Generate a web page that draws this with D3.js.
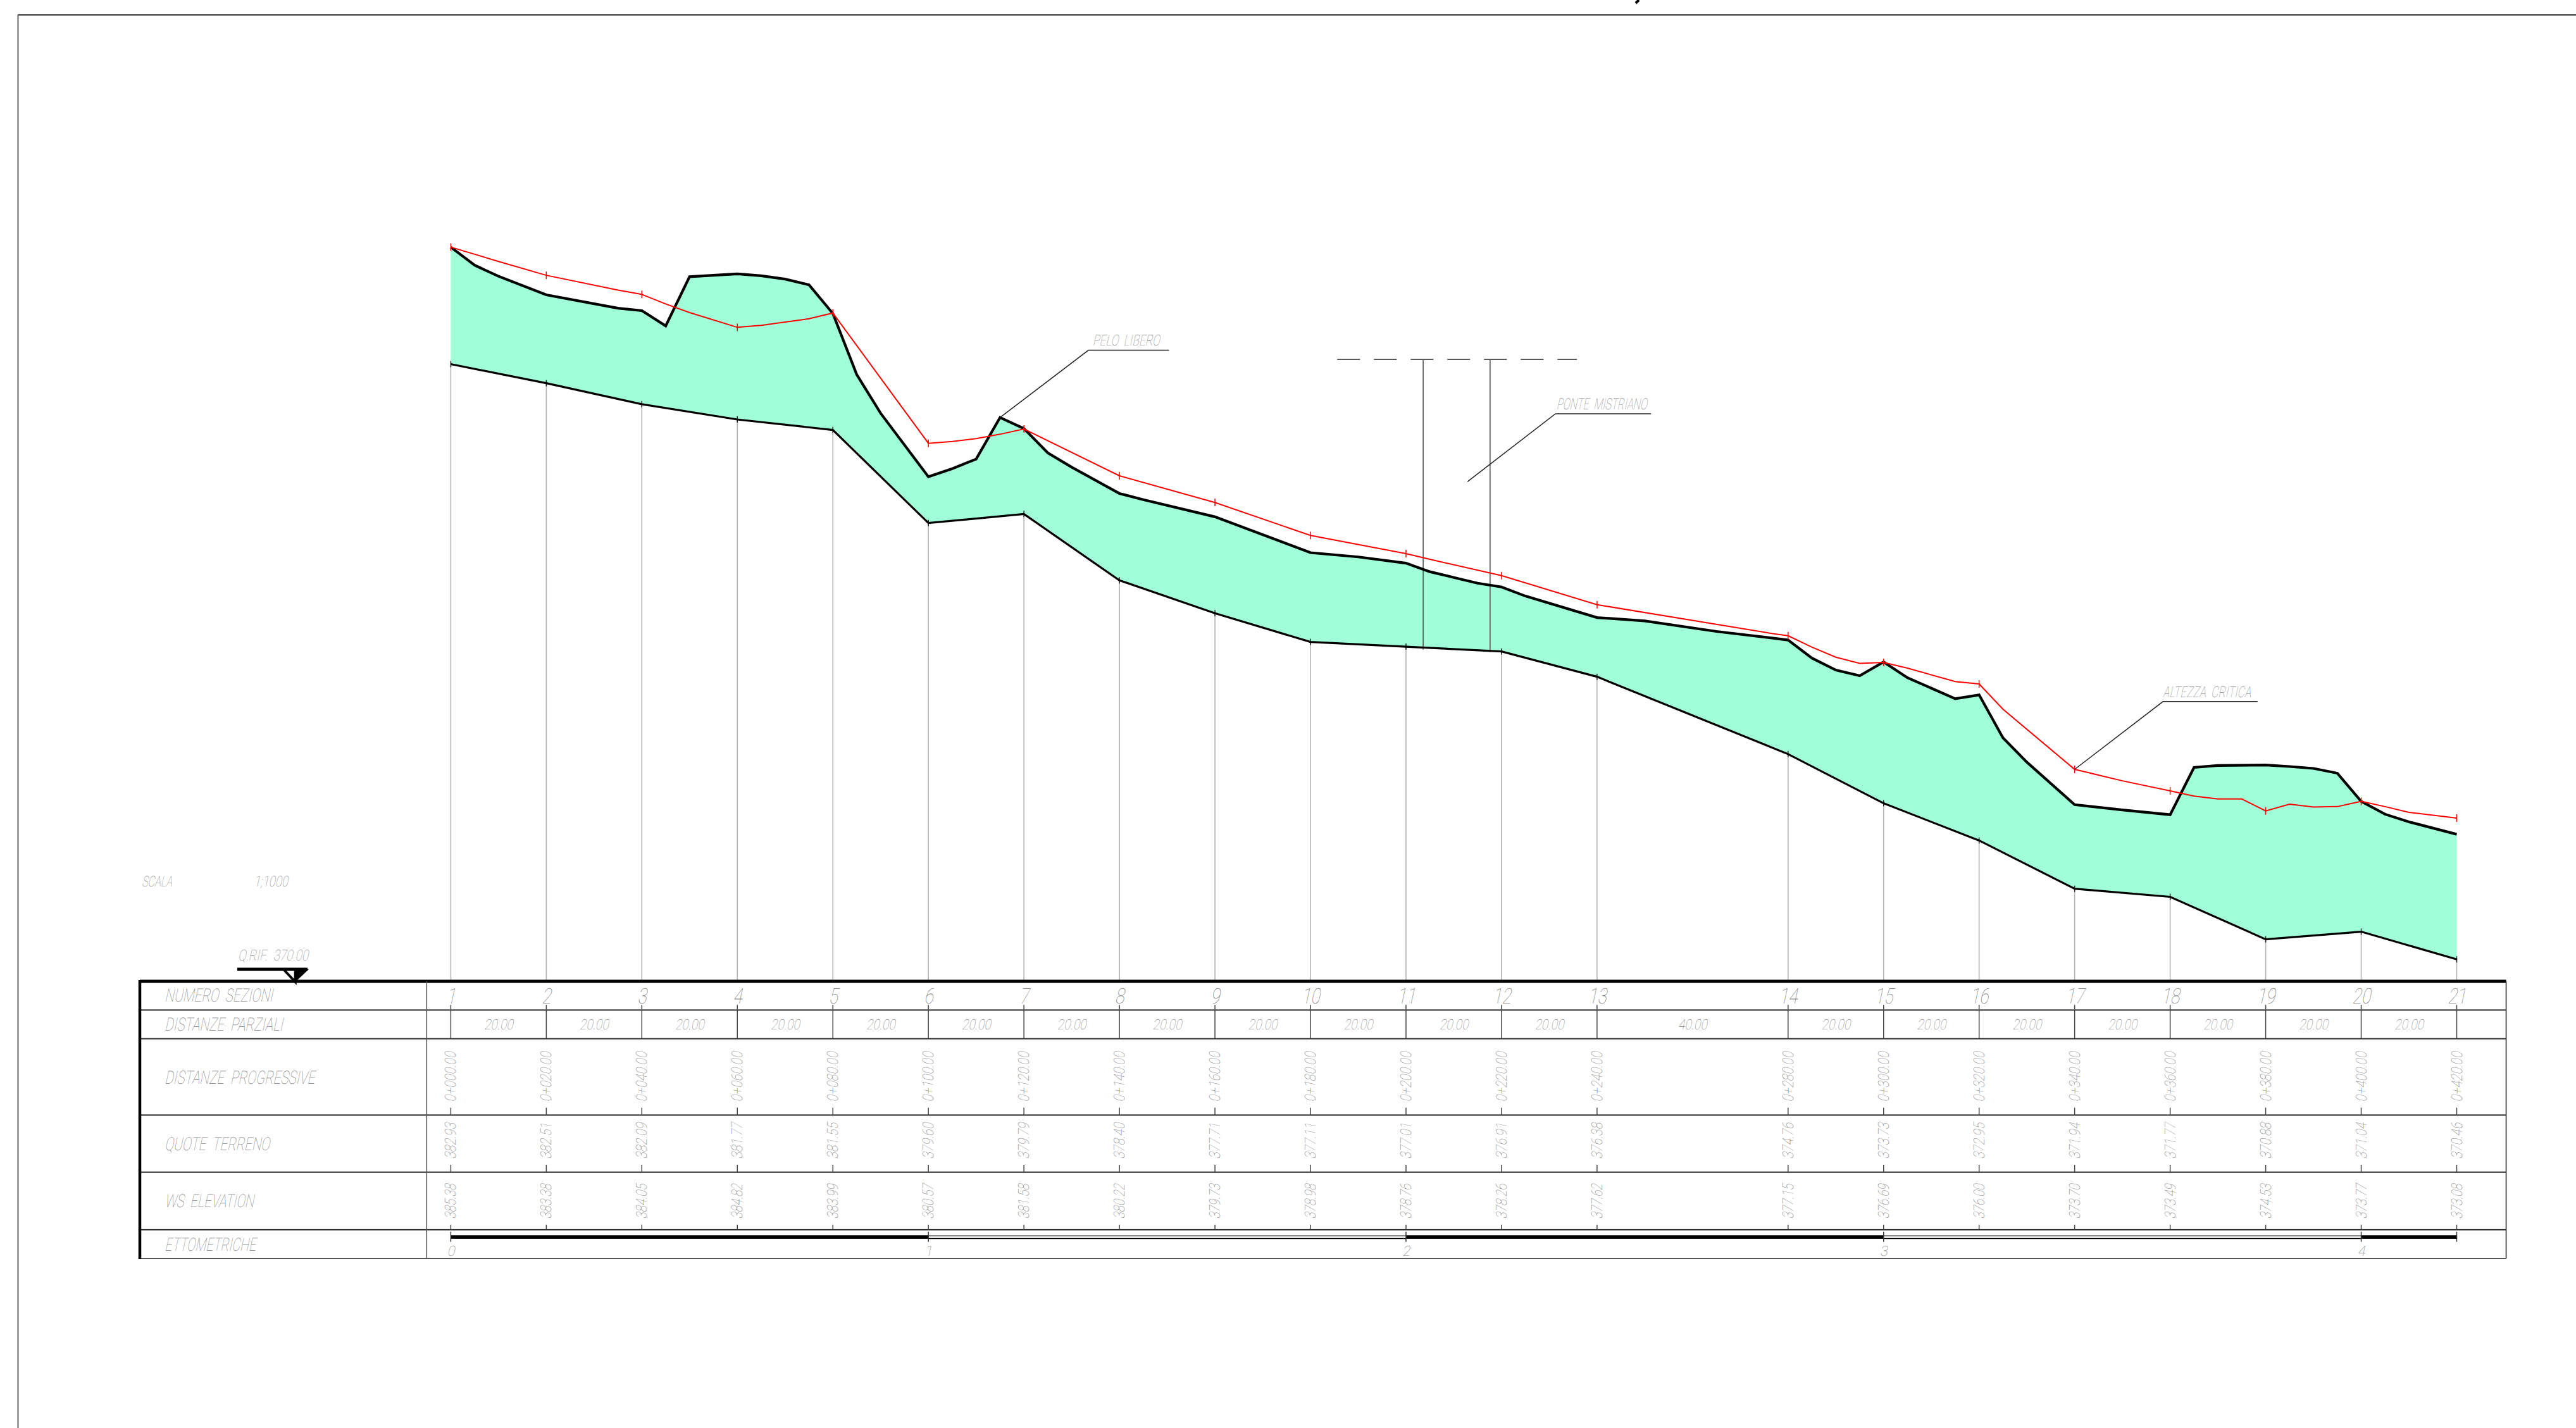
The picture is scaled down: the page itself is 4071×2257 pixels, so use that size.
<!DOCTYPE html>
<html lang="en">
<head>
  <meta charset="UTF-8">
  <title>Profilo longitudinale</title>
  <script src="https://d3js.org/d3.v7.min.js"></script>
  <style>
    body { margin: 0; background: #fff; }
    svg { display: block; }
    text { font-family: Roboto, "Liberation Sans", sans-serif; font-weight: 100; fill: #858585; white-space: pre; }
  </style>
</head>
<body>
  <svg width="4071" height="2257"></svg>
  <script>
    // sections
    const sectionNumbers = d3.range(1, 22).map(String);
    const sectionDist = [0, 20, 40, 60, 80, 100, 120, 140, 160, 180, 200, 220, 240, 280, 300, 320, 340, 360, 380, 400, 420];
    const partialLabels = ["20.00", "20.00", "20.00", "20.00", "20.00", "20.00", "20.00", "20.00", "20.00", "20.00", "20.00", "20.00", "40.00", "20.00", "20.00", "20.00", "20.00", "20.00", "20.00", "20.00"];
    const progressiveLabels = ["0+000.00", "0+020.00", "0+040.00", "0+060.00", "0+080.00", "0+100.00", "0+120.00", "0+140.00", "0+160.00", "0+180.00", "0+200.00", "0+220.00", "0+240.00", "0+280.00", "0+300.00", "0+320.00", "0+340.00", "0+360.00", "0+380.00", "0+400.00", "0+420.00"];
    const bedLabels = ["382.93", "382.51", "382.09", "381.77", "381.55", "379.60", "379.79", "378.40", "377.71", "377.11", "377.01", "376.91", "376.38", "374.76", "373.73", "372.95", "371.94", "371.77", "370.88", "371.04", "370.46"];
    const wsLabels = ["385.38", "383.38", "384.05", "384.82", "383.99", "380.57", "381.58", "380.22", "379.73", "378.98", "378.76", "378.26", "377.62", "377.15", "376.69", "376.00", "373.70", "373.49", "374.53", "373.77", "373.08"];
    const bedElev = [382.93, 382.53, 382.09, 381.77, 381.55, 379.60, 379.79, 378.40, 377.71, 377.11, 377.01, 376.91, 376.38, 374.76, 373.73, 372.95, 371.94, 371.77, 370.88, 371.04, 370.46];

    // pelo libero (black)
    const wsDist = [0, 5, 10, 20, 35, 40, 45, 50, 60, 65, 70, 75, 80, 85, 90, 100, 105, 110, 115, 120, 125, 130, 140, 145, 160, 180, 190, 200, 205, 210, 215, 220, 225, 240, 250, 265, 280, 285, 290, 295, 300, 305, 315, 320, 325, 330, 340, 350, 360, 365, 370, 380, 385, 390, 395, 400, 405, 410, 420];
    const wsElev = [385.38, 385.00, 384.77, 384.38, 384.10, 384.05, 383.73, 384.76, 384.82, 384.78, 384.71, 384.59, 383.99, 382.71, 381.90, 380.57, 380.74, 380.94, 381.81, 381.58, 381.07, 380.77, 380.22, 380.09, 379.73, 378.98, 378.89, 378.76, 378.58, 378.46, 378.34, 378.26, 378.07, 377.62, 377.55, 377.33, 377.15, 376.77, 376.52, 376.40, 376.69, 376.36, 375.92, 376.00, 375.10, 374.59, 373.70, 373.59, 373.49, 374.48, 374.52, 374.53, 374.50, 374.46, 374.36, 373.77, 373.50, 373.34, 373.08];

    // altezza critica (red)
    const critDist = [0, 10, 20, 35, 40, 45, 50, 60, 65, 70, 75, 80, 100, 105, 110, 115, 120, 140, 160, 180, 200, 205, 220, 240, 277, 280, 285, 290, 295, 300, 305, 315, 320, 325, 340, 350, 360, 365, 370, 375, 380, 385, 390, 395, 400, 405, 410, 420];
    const critElev = [385.38, 385.08, 384.79, 384.48, 384.39, 384.19, 384.01, 383.70, 383.74, 383.81, 383.88, 384.00, 381.27, 381.31, 381.37, 381.46, 381.57, 380.59, 380.03, 379.34, 378.96, 378.84, 378.50, 377.89, 377.28, 377.24, 377.00, 376.79, 376.66, 376.68, 376.56, 376.28, 376.23, 375.70, 374.44, 374.20, 373.99, 373.88, 373.82, 373.82, 373.57, 373.71, 373.65, 373.66, 373.77, 373.66, 373.54, 373.42];

    // ponte
    const bridgeDeckElev = 383.03;
    const bridgeDeckDist = [185.6, 235.8];
    const bridgePierDist = [203.6, 217.6];
    const bridgePierBase = [376.95, 376.90];

    // callouts: leader points are [dist, elevation]
    const calloutLabels = ["PELO  LIBERO", "PONTE  MISTRIANO", "ALTEZZA  CRITICA"];
    const calloutLeaders = [
      [[115, 381.81], [133.5, 383.22], [150.4, 383.22]],
      [[212.9, 380.47], [231.3, 381.89], [251.3, 381.89]],
      [[340, 374.44], [358.5, 375.86], [378.3, 375.86]]
    ];

    const hectoLabels = ["0", "1", "2", "3", "4"];
    const hectoDist = [0, 100, 200, 300, 400];
    const rowLabels = ["NUMERO  SEZIONI", "DISTANZE  PARZIALI", "DISTANZE  PROGRESSIVE", "QUOTE  TERRENO", "WS  ELEVATION", "ETTOMETRICHE"];

    const svg = d3.select("svg");
    const x = d3.scaleLinear().domain([0, 420]).range([712.4, 3882.5]);
    const y = d3.scaleLinear().domain([370, 385.38]).range([1551, 390.6]);

    const ws = wsDist.map((d, i) => [d, wsElev[i]]);
    const crit = critDist.map((d, i) => [d, critElev[i]]);
    const bed = sectionDist.map((d, i) => [d, bedElev[i]]);
    const line = d3.line().x(d => x(d[0])).y(d => y(d[1]));

    // table layout
    const left = 221, labelCol = 674.3, right = 3960.6;
    const rowY = [1551, 1596.3, 1641.7, 1762.3, 1852.7, 1943.7, 1989];

    // thin slanted CAD lettering, squeezed to a given width and cap height
    function cadText(str, tx, ty, w, capH, rot) {
      const fs = capH / 0.711;
      const t = svg.append("text").attr("font-size", fs).text(str);
      const sx = w / t.node().getComputedTextLength();
      t.attr("transform", `translate(${tx},${ty})${rot ? " rotate(-90)" : ""} skewX(-12) scale(${sx},1)`);
      return t;
    }

    function hline(x1, x2, yy, color, width) {
      svg.append("line").attr("x1", x1).attr("x2", x2).attr("y1", yy).attr("y2", yy)
        .attr("stroke", color).attr("stroke-width", width);
    }
    function vline(xx, y1, y2, color, width) {
      svg.append("line").attr("x1", xx).attr("x2", xx).attr("y1", y1).attr("y2", y2)
        .attr("stroke", color).attr("stroke-width", width);
    }

    // sheet frame
    hline(28, 4071, 23.5, "#111", 2);
    vline(28.5, 23, 2257, "#666", 2);
    svg.append("path").attr("d", "M2590,0L2585,5").attr("stroke", "#000").attr("stroke-width", 4);

    // wetted area between bed and pelo libero
    svg.append("path")
      .attr("d", line(ws.concat(bed.slice().reverse())) + "Z")
      .attr("fill", "#a0ffd8");

    // section verticals
    bed.forEach(d => {
      vline(x(d[0]), y(d[1]), rowY[0], "#b4b4b4", 1.6);
      vline(x(d[0]), y(d[1]) - 5, y(d[1]) + 5, "#222", 1.5);
    });

    // bridge
    svg.append("line")
      .attr("x1", x(bridgeDeckDist[0])).attr("x2", x(bridgeDeckDist[1]))
      .attr("y1", y(bridgeDeckElev)).attr("y2", y(bridgeDeckElev))
      .attr("stroke", "#222").attr("stroke-width", 1.5).attr("stroke-dasharray", "36 22");
    bridgePierDist.forEach((d, i) => vline(x(d), y(bridgeDeckElev), y(bridgePierBase[i]), "#666", 1.8));

    // profile lines
    svg.append("path").attr("d", line(bed)).attr("fill", "none").attr("stroke", "#000").attr("stroke-width", 3.2);
    svg.append("path").attr("d", line(ws)).attr("fill", "none").attr("stroke", "#000").attr("stroke-width", 4.2);
    svg.append("path").attr("d", line(crit)).attr("fill", "none").attr("stroke", "#f00").attr("stroke-width", 2);
    crit.filter(d => sectionDist.includes(d[0])).forEach(d => {
      vline(x(d[0]), y(d[1]) - 6, y(d[1]) + 6, "#f00", 1.5);
    });

    // callouts
    calloutLeaders.forEach(pts => {
      svg.append("path").attr("d", line(pts)).attr("fill", "none").attr("stroke", "#222").attr("stroke-width", 1.5);
    });
    cadText(calloutLabels[0], 1726.7, 545.7, 106, 17);
    cadText(calloutLabels[1], 2459.7, 646.8, 143, 17.5);
    cadText(calloutLabels[2], 3418, 1101.8, 139, 17);

    // scale and reference level
    cadText("SCALA", 224, 1400.7, 48, 16.5);
    cadText("1;1000", 401, 1400.7, 54, 16.5);
    cadText("Q.RIF.  370.00", 376, 1517.7, 111, 17);
    hline(375, 486, 1532, "#000", 5);
    svg.append("path").attr("d", "M466.7,1532L488,1532L466.7,1552Z").attr("fill", "#000");
    svg.append("path").attr("d", "M448,1532L466.7,1552L466.7,1532").attr("fill", "none").attr("stroke", "#000").attr("stroke-width", 4);

    // table grid
    hline(left, right, rowY[0], "#000", 5);
    hline(left, right, rowY[1], "#000", 1.8);
    hline(left, right, rowY[2], "#333", 2);
    hline(left, right, rowY[3], "#000", 1.8);
    hline(left, right, rowY[4], "#555", 2.4);
    hline(left, right, rowY[5], "#000", 1.8);
    hline(left, right, rowY[6], "#555", 2);
    vline(left, rowY[0] - 2, rowY[6] + 1, "#000", 4.5);
    vline(labelCol, rowY[0], rowY[6], "#555", 1.5);
    vline(right, rowY[0], rowY[6], "#444", 1.8);

    const rowLabelBox = [[1583, 171], [1629, 187], [1712.7, 237], [1818, 166], [1908, 141], [1976.7, 144]];
    rowLabels.forEach((s, i) => cadText(s, 260, rowLabelBox[i][0], rowLabelBox[i][1], 20.5));

    // table ticks
    sectionDist.forEach(d => {
      const px = x(d);
      vline(px, 1588.3, rowY[2], "#444", 1.5);
      vline(px, 1750.7, rowY[3], "#444", 1.5);
      vline(px, 1841, rowY[4], "#444", 1.5);
      vline(px, 1935.7, rowY[5], "#444", 1.5);
    });

    // table values
    sectionNumbers.forEach((s, i) => {
      const w = s.length * 14.5;
      cadText(s, x(sectionDist[i]) - w / 2, 1585.7, w, 24);
    });
    partialLabels.forEach((s, i) => {
      cadText(s, (x(sectionDist[i]) + x(sectionDist[i + 1])) / 2 - 23, 1627, 46, 16);
    });
    progressiveLabels.forEach((s, i) => cadText(s, x(sectionDist[i]) + 8, 1741.7, 79, 17, true));
    bedLabels.forEach((s, i) => cadText(s, x(sectionDist[i]) + 8, 1832, 57, 17, true));
    wsLabels.forEach((s, i) => cadText(s, x(sectionDist[i]) + 8, 1926.7, 55, 17, true));

    // hectometre bar
    hectoDist.forEach((d, i) => {
      const end = x(Math.min(d + 100, 420));
      if (i % 2 === 0) {
        svg.append("rect").attr("x", x(d)).attr("y", 1952.3).attr("width", end - x(d)).attr("height", 5.6).attr("fill", "#000");
      } else {
        hline(x(d), end, 1952.8, "#555", 1.2);
        hline(x(d), end, 1955, "#aaa", 1);
        hline(x(d), end, 1957.6, "#000", 1.2);
      }
      vline(x(d), 1946.7, 1962.7, "#333", 1.5);
      cadText(hectoLabels[i], x(d) - 6, 1985, 12, 16);
    });
    vline(x(420), 1946.7, 1962.7, "#333", 1.5);
  </script>
</body>
</html>
